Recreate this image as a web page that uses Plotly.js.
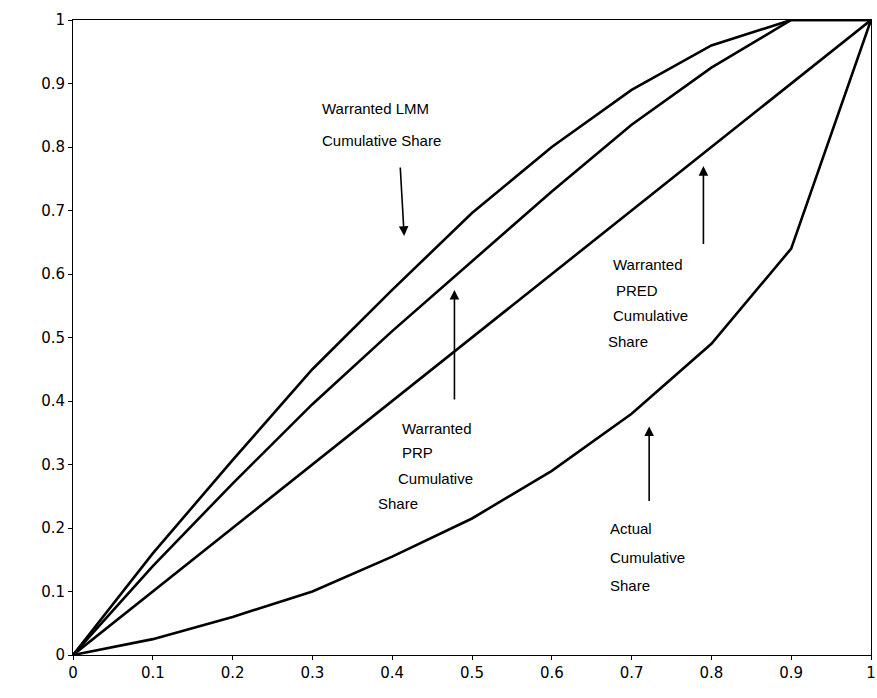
<!DOCTYPE html>
<html>
<head>
<script src="https://cdn.plot.ly/plotly-3.0.1.min.js"></script>
<style>body{margin:0;background:#fff}</style>
</head>
<body>
<div id="chart" style="width:877px;height:698px"></div>
<script type="text/javascript">
    /* * Data * */
    var share_x = [0, 0.1, 0.2, 0.3, 0.4, 0.5, 0.6, 0.7, 0.8, 0.9, 1];
    var lmm_y = [0, 0.16, 0.307, 0.45, 0.575, 0.696, 0.80, 0.89, 0.96, 1.0, 1.0];
    var prp_y = [0, 0.14, 0.27, 0.395, 0.51, 0.62, 0.73, 0.835, 0.925, 1.0, 1.0];
    var pred_y = [0, 0.1, 0.2, 0.3, 0.4, 0.5, 0.6, 0.7, 0.8, 0.9, 1.0];
    var actual_y = [0, 0.025, 0.06, 0.10, 0.155, 0.215, 0.29, 0.38, 0.49, 0.64, 1.0];
    var tick_vals = [0, 0.1, 0.2, 0.3, 0.4, 0.5, 0.6, 0.7, 0.8, 0.9, 1];
    var tick_text = ['0', '0.1', '0.2', '0.3', '0.4', '0.5', '0.6', '0.7', '0.8', '0.9', '1'];

    var labels = [
        {x: 0.309, lines: ['Warranted LMM', 'Cumulative Share'], y: [0.86, 0.81]},
        {x: 0.41, lines: ['Warranted', 'PRP', 'Cumulative', 'Share'], y: [0.357, 0.319, 0.278, 0.239], dx: [0, 0, -0.005, -0.03]},
        {x: 0.674, lines: ['Warranted', 'PRED', 'Cumulative', 'Share'], y: [0.615, 0.574, 0.535, 0.494], dx: [0, 0.004, 0, -0.006]},
        {x: 0.671, lines: ['Actual', 'Cumulative', 'Share'], y: [0.199, 0.154, 0.110]}
    ];
    var arrows = [
        {x0: 0.41, y0: 0.77, x1: 0.415, y1: 0.66},
        {x0: 0.478, y0: 0.40, x1: 0.478, y1: 0.575},
        {x0: 0.79, y0: 0.645, x1: 0.79, y1: 0.77},
        {x0: 0.722, y0: 0.24, x1: 0.722, y1: 0.36}
    ];

    var line_style = {color: '#000', width: 2.6};
    var data = [lmm_y, prp_y, pred_y, actual_y].map(function (ys) {
        return {x: share_x, y: ys, type: 'scatter', mode: 'lines', line: line_style, hoverinfo: 'none'};
    });

    var annotations = [];
    labels.forEach(function (lb) {
        for (var i = 0; i < lb.lines.length; i++) {
            annotations.push({
                x: lb.x + (lb.dx ? lb.dx[i] : 0), y: lb.y[i], xref: 'x', yref: 'y',
                text: lb.lines[i], showarrow: false, xanchor: 'left', yanchor: 'middle',
                font: {family: 'Liberation Sans, Arial', size: 15, color: '#000'}
            });
        }
    });
    arrows.forEach(function (a) {
        annotations.push({
            x: a.x1, y: a.y1, ax: a.x0, ay: a.y0, xref: 'x', yref: 'y', axref: 'x', ayref: 'y',
            text: '', showarrow: true, arrowhead: 2, arrowsize: 1.2, arrowwidth: 1.6, arrowcolor: '#000'
        });
    });

    var axis_common = {
        range: [0, 1], tickmode: 'array', tickvals: tick_vals, ticktext: tick_text,
        showgrid: false, zeroline: false,
        showline: true, linecolor: '#000', linewidth: 1, mirror: true,
        ticks: 'outside', ticklen: 4, tickcolor: '#000',
        tickfont: {family: 'DejaVu Sans, Verdana', size: 15, color: '#000'}
    };
    var layout = {
        width: 877, height: 698,
        margin: {l: 73, r: 6, t: 20, b: 43},
        showlegend: false,
        paper_bgcolor: '#fff', plot_bgcolor: '#fff',
        xaxis: Object.assign({}, axis_common),
        yaxis: Object.assign({}, axis_common),
        annotations: annotations
    };
    Plotly.newPlot(document.getElementById('chart'), data, layout, {staticPlot: true});
</script>
</body>
</html>
